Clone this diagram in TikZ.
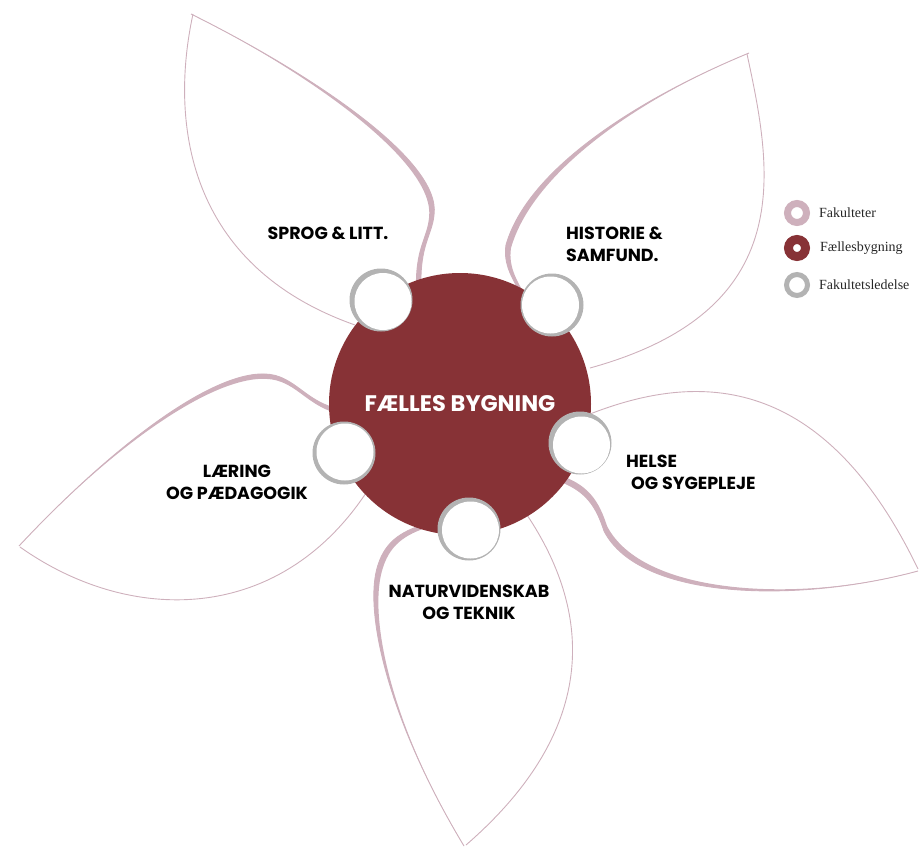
\documentclass[tikz,border=0pt]{standalone}
\usepackage{fontspec}
\setsansfont{Poppins}
\newfontfamily\legendfont{Liberation Serif}
\usetikzlibrary{positioning}
\definecolor{petal}{HTML}{CEB0BC}
\definecolor{hallred}{HTML}{873236}
\definecolor{leadgray}{HTML}{B3B3B3}
\tikzset{
  petalline/.style={draw=petal, line width=0.9pt},
  hallnode/.style={circle, fill=hallred, minimum size=262pt, inner sep=0pt,
    text=white, font=\sffamily\bfseries\fontsize{22.5}{26}\selectfont},
  leadring/.style={circle, fill=leadgray, minimum size=63pt, inner sep=0pt},
  facname/.style={font=\sffamily\bfseries\fontsize{17.5}{22}\selectfont, align=center, inner sep=0pt},
  legendtext/.style={font=\legendfont\fontsize{14}{16}\selectfont, text=black!85, inner sep=2pt},
}
% thick side of a petal: crescent that runs thin at the tip
\newcommand\thickside[8]{%
  \fill[petal] (#1) .. controls (#2) and (#3) .. (#4) .. controls (#5) and (#6) .. (#7)
    -- ([shift={(#8)}]#7) .. controls ([shift={(#8)}]#6) and ([shift={(#8)}]#5) .. ([shift={(#8)}]#4)
    .. controls ([shift={(#8)}]#3) and (#2) .. (#1) -- cycle;
  \draw[petalline] (#1) .. controls (#2) and (#3) .. (#4) .. controls (#5) and (#6) .. (#7);}
\begin{document}
\begin{tikzpicture}[x=1pt,y=-1pt]
\useasboundingbox (0,0) rectangle (919,848);
% petals
\draw[petalline] (193,14) .. controls (170,120) and (185,265) .. (355,325);
\thickside{191,14}{300,68}{442,158}{434,215}{432,235}{420,245}{421,285}{-5,3}
\draw[petalline] (747,54) .. controls (772,170) and (800,310) .. (590,368);
\thickside{749,53}{640,98}{528,168}{506,245}{503,265}{513,280}{525,300}{5,3}
\draw[petalline] (590,414) .. controls (690,375) and (820,365) .. (918,569);
\thickside{918,571}{800,603}{640,601}{604,531}{596,506}{586,492}{562,482}{3,-5}
\draw[petalline] (525,512) .. controls (585,600) and (610,720) .. (466,845);
\thickside{464,846}{388,720}{363,610}{378,565}{386,540}{403,530}{432,522}{5,2.5}
\draw[petalline] (20,547) .. controls (130,625) and (280,625) .. (368,490);
\thickside{19,546}{120,438}{230,357}{280,377}{300,385}{310,402}{338,409}{1.5,5}
% common building
\node[hallnode] (hall) at (460,404) {FÆLLES BYGNING};
% faculty management
\foreach \name/\x/\y/\dx/\dy in {sprog/381/300/2/1.5, historie/552/305/-1.5/0,
    helse/580/443/1.5/2, laering/344/453/1/-1, natur/469/529/1.5/1}
  {\node[leadring] (\name) at (\x,\y) {};
   \fill[white] ([shift={(\dx,\dy)}]\name.center) circle (28.5pt);}
% faculty names
\node[facname] (sprogtxt) at (328,233) {SPROG \& LITT.};
\node[facname, align=left, anchor=west] (historietxt) at (566,244) {HISTORIE \&\\SAMFUND.};
\node[facname, align=left, anchor=west] (helsetxt) at (626,472) {HELSE\\\hspace*{5pt}OG SYGEPLEJE};
\node[facname] (laeringtxt) at (237,482) {LÆRING\\OG PÆDAGOGIK};
\node[facname] (naturtxt) at (469,602) {NATURVIDENSKAB\\OG TEKNIK};
% legend
\node[circle, draw=petal, fill=white, line width=7pt, minimum size=19pt, inner sep=0pt] (fak) at (797,213) {};
\node[circle, draw=hallred, fill=white, line width=9pt, minimum size=17pt, inner sep=0pt] (faelles) at (797,248) {};
\node[circle, draw=leadgray, fill=white, line width=5pt, minimum size=21pt, inner sep=0pt] (ledelse) at (797,285) {};
\node[legendtext, right=7pt of fak] (faktxt) {Fakulteter};
\node[legendtext, right=8pt of faelles] (faellestxt) {Fællesbygning};
\node[legendtext, right=7pt of ledelse] (ledelsetxt) {Fakultetsledelse};
\end{tikzpicture}
\end{document}
